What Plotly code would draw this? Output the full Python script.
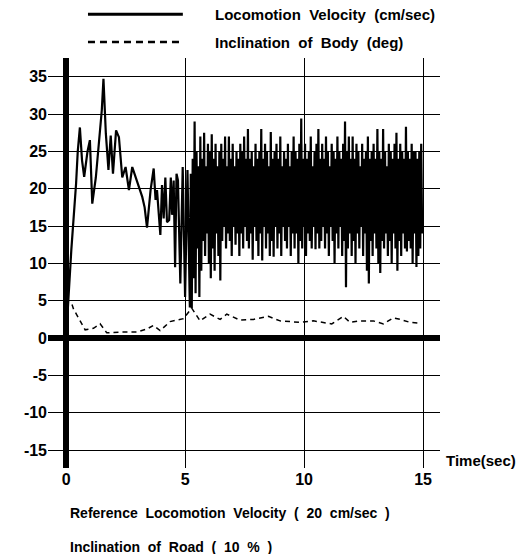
import numpy as np
import plotly.graph_objects as go

# ---- Locomotion velocity (cm/sec): start-up phase (irregular samples) ----
t_start = [0.0, 0.05, 0.22, 0.42, 0.49, 0.58, 0.63, 0.67, 0.76, 0.84, 0.9, 1.0, 1.1,
           1.25, 1.4, 1.5, 1.57, 1.67, 1.78, 1.875, 1.97, 2.1, 2.22, 2.36, 2.5,
           2.64, 2.78, 2.92, 3.06, 3.2, 3.3, 3.4, 3.55, 3.68, 3.76, 3.82, 3.96,
           4.03, 4.1, 4.17, 4.24, 4.33, 4.4, 4.45, 4.52, 4.58, 4.64, 4.7, 4.8,
           4.9, 5.0, 5.1, 5.2]
v_start = [0.0, 2.8, 11.8, 20.7, 25.0, 28.2, 25.5, 23.8, 21.6, 24.0, 25.0, 26.5, 18.0,
           21.5, 27.4, 30.5, 34.7, 27.4, 22.5, 27.1, 22.0, 27.8, 26.9, 21.5, 22.9,
           19.8, 22.9, 21.5, 20.2, 18.9, 17.5, 14.8, 19.8, 22.7, 18.5, 19.8, 13.8,
           20.5, 16.0, 21.5, 15.5, 15.8, 21.5, 16.5, 21.1, 9.5, 22.0, 21.1, 7.3,
           22.9, 5.5, 22.5, 4.1]

# ---- Locomotion velocity: steady walking phase, sampled every 0.04 s from 5.24 s ----
v_walk = [
    22, 4, 24, 8, 29, 6, 25, 12, 23, 5.5,
    27, 9, 24, 13, 27.5, 11, 23, 14, 26, 10,
    25, 8, 27.3, 12, 24, 9, 26, 14, 23, 11,
    25, 7.7, 26, 13, 24, 15, 27, 12, 23, 14,
    27, 13, 24, 11, 26, 15, 23, 12.5, 25, 14,
    24, 11, 26, 14, 25, 12, 27, 15, 24, 13,
    28, 12, 24, 14, 25, 10.5, 23, 15, 26, 13,
    24, 11, 25, 14, 28, 10.4, 24, 15, 26, 12,
    25, 14, 23, 11, 27.6, 13, 24, 10.9, 25, 15,
    26, 12, 24, 14, 27, 11, 23, 15, 25, 13,
    24, 12, 26, 15, 23, 11, 25, 14, 27, 12,
    25, 14, 24, 10, 26, 13, 29.4, 12, 24, 15,
    26, 11, 24, 14, 25, 13, 27, 12, 23, 15,
    25, 11.9, 26, 14, 28, 12, 24, 13, 26, 15,
    24, 12, 27, 14, 25, 11, 23, 15, 26, 13,
    25, 10, 24, 14, 27, 12, 25, 15, 24, 11,
    26, 13, 29, 6.8, 25, 12, 27, 14, 24, 11,
    27, 13, 24, 10, 26, 14, 25, 12, 23, 15,
    26, 11, 24, 14, 25, 9, 27, 7.3, 24, 13,
    25, 11, 26, 14, 24, 12, 28, 10, 25, 8.7,
    24, 13, 28, 12, 25, 14, 23, 11, 26, 13,
    25, 10, 24, 14, 26, 12, 27.5, 9, 24, 13,
    26, 11, 25, 14, 24, 12, 28.3, 11.6, 25, 13,
    24, 12, 26, 10, 25, 14, 25, 9.5, 24, 11,
    25, 12, 26, 14,
]
t_walk = list(np.round(5.24 + 0.04 * np.arange(len(v_walk)), 3))

# ---- Inclination of body (deg) ----
t_incl = [0.25, 0.31, 0.59, 0.8, 1.15, 1.43, 1.71, 2.27, 2.97, 3.39, 3.67, 3.95,
          4.37, 4.93, 5.28, 5.63, 6.05, 6.47, 6.75, 7.31, 7.87, 8.5, 8.99, 9.83,
          10.39, 10.81, 11.16, 11.65, 11.93, 12.35, 12.91, 13.33, 13.75, 14.03,
          14.45, 14.8]
v_incl = [4.5, 3.9, 2.3, 1.1, 1.3, 1.9, 0.7, 0.8, 0.8, 1.2, 1.7, 1.0,
          2.2, 2.6, 4.0, 2.3, 3.2, 2.5, 3.2, 2.4, 2.5, 2.9, 2.3, 2.1,
          2.3, 2.1, 1.9, 2.9, 2.1, 2.3, 2.3, 1.9, 2.7, 2.5,
          2.1, 2.0]

x_ticks = [0, 5, 10, 15]
x_labels = ["0", "5", "10", "15"]
y_ticks = [-15, -10, -5, 0, 5, 10, 15, 20, 25, 30, 35]
y_labels = ["-15", "-10", "-5", "0", "5", "10", "15", "20", "25", "30", "35"]

legend_names = ["Locomotion Velocity (cm/sec)", "Inclination of Body (deg)"]
bottom_notes = ["Reference Locomotion Velocity ( 20 cm/sec )", "Inclination of Road ( 10 % )"]
x_title = "Time(sec)"

FONT = "Liberation Sans"


def spaced(s):
    # the scanned labels use wide gaps between words
    return s.replace(" ", "&nbsp; ")


fig = go.Figure()
fig.add_trace(go.Scatter(x=t_start + t_walk, y=v_start + v_walk, mode="lines",
                         line=dict(color="black", width=2.2), showlegend=False))
fig.add_trace(go.Scatter(x=t_incl, y=v_incl, mode="lines",
                         line=dict(color="black", width=1.5, dash="5px,4px"), showlegend=False))

fig.update_layout(
    width=521, height=554,
    margin=dict(l=48, r=81, t=58, b=86),
    paper_bgcolor="white", plot_bgcolor="white",
    font=dict(family=FONT, size=14, color="black", weight="bold"),
    xaxis=dict(range=[-0.76, 15.71], tickvals=x_ticks, ticktext=x_labels, showgrid=True,
               gridcolor="black", gridwidth=1.3, zeroline=True, zerolinecolor="black",
               zerolinewidth=6, showline=False, ticks="", tickfont=dict(size=16)),
    yaxis=dict(range=[-17.4, 37.5], tickvals=y_ticks, ticktext=y_labels, showgrid=True,
               gridcolor="black", gridwidth=1.3, zeroline=True, zerolinecolor="black",
               zerolinewidth=6, showline=False, ticks="", tickfont=dict(size=16)),
)

# legend drawn manually
fig.add_shape(type="line", xref="paper", yref="paper", x0=0.102, x1=0.344, y0=1.107, y1=1.107,
              line=dict(color="black", width=3))
fig.add_shape(type="line", xref="paper", yref="paper", x0=0.102, x1=0.344, y0=1.039, y1=1.039,
              line=dict(color="black", width=2.5, dash="7px,5px"))
fig.add_annotation(text=spaced(legend_names[0]), xref="paper", yref="paper", x=0.421, y=1.107,
                   xanchor="left", yanchor="middle", showarrow=False, font=dict(size=15))
fig.add_annotation(text=spaced(legend_names[1]), xref="paper", yref="paper", x=0.421, y=1.039,
                   xanchor="left", yanchor="middle", showarrow=False, font=dict(size=15))

fig.add_annotation(text=x_title, xref="paper", yref="y", x=1.01, y=-16.4,
                   xanchor="left", yanchor="middle", showarrow=False, font=dict(size=15))
fig.add_annotation(text=spaced(bottom_notes[0]), xref="paper", yref="paper", x=0.051, y=-0.110,
                   xanchor="left", yanchor="middle", showarrow=False, font=dict(size=14))
fig.add_annotation(text=spaced(bottom_notes[1]), xref="paper", yref="paper", x=0.051, y=-0.193,
                   xanchor="left", yanchor="middle", showarrow=False, font=dict(size=14))

fig.write_html("out.html")
